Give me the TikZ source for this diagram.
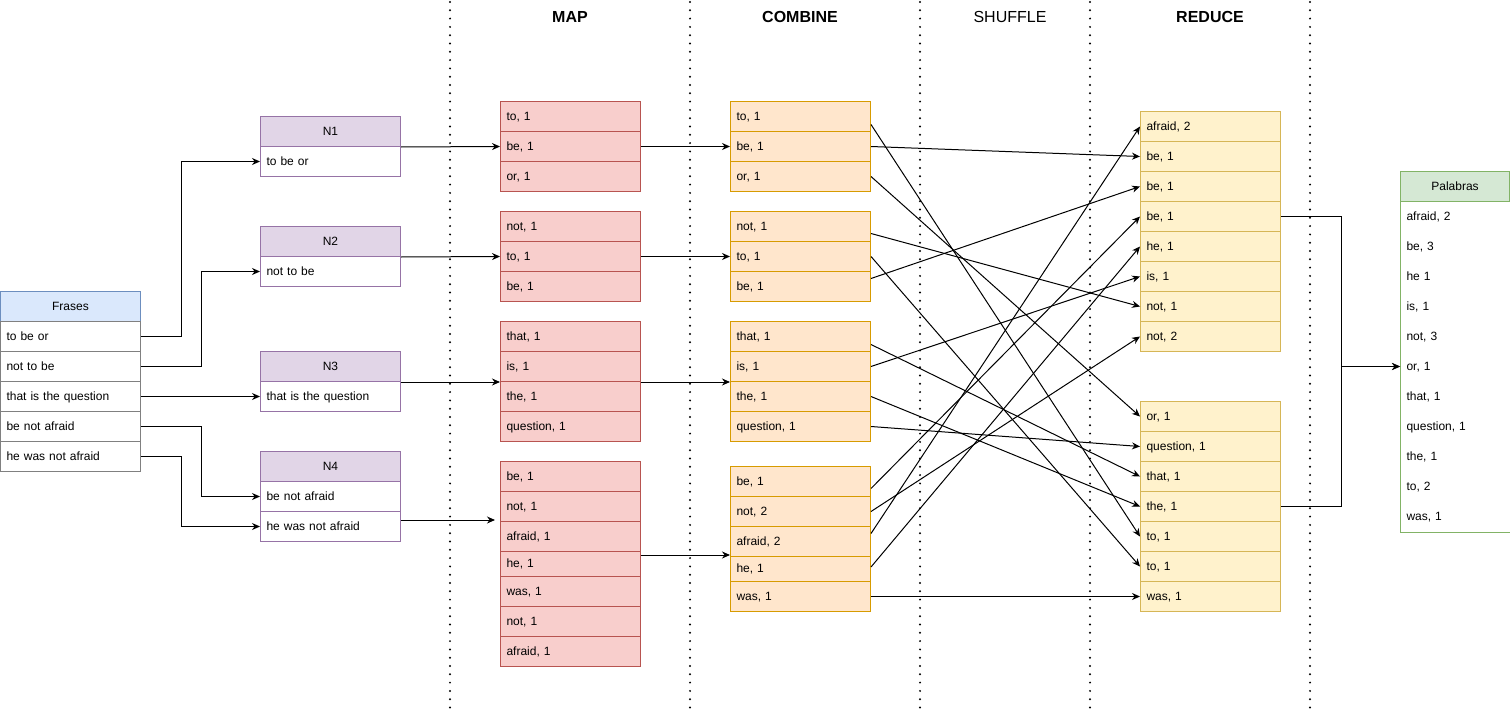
\documentclass[tikz,border=0pt]{standalone}
\usepackage{fontspec}
\setmainfont{Liberation Sans}
\usetikzlibrary{arrows.meta,calc}
\definecolor{frF}{HTML}{DAE8FC}\definecolor{frS}{HTML}{6C8EBF}\definecolor{frG}{HTML}{808080}
\definecolor{nF}{HTML}{E1D5E7}\definecolor{nS}{HTML}{9673A6}
\definecolor{mF}{HTML}{F8CECC}\definecolor{mS}{HTML}{B85450}
\definecolor{cF}{HTML}{FFE6CC}\definecolor{cS}{HTML}{D79B00}
\definecolor{rF}{HTML}{FFF2CC}\definecolor{rS}{HTML}{D6B656}
\definecolor{pF}{HTML}{D5E8D4}\definecolor{pS}{HTML}{82B366}
\newcommand\mkcol[5]{\foreach \t [count=\i] in {#5}{\node[#4] (#1\i) at (#2,{#3+30*(\i-1)}) {\t};}}
\begin{document}
\begin{tikzpicture}[x=1pt,y=-1pt,font=\fontsize{12}{14}\selectfont,
  arr/.style={draw=black,line width=1pt,-{Stealth[length=8pt,width=7pt]}},
  cell/.style={draw,line width=1pt,minimum width=140pt,minimum height=30pt,inner xsep=6pt,inner ysep=0pt,text width=128pt,align=left,anchor=north west,text height=9pt,text depth=1.5pt},
  hdr/.style={cell,align=center},
  frh/.style={hdr,fill=frF,draw=frS},
  frow/.style={cell,fill=white,draw=frG},
  nh/.style={hdr,fill=nF,draw=nS},
  nrow/.style={cell,fill=white,draw=nS},
  mapc/.style={cell,fill=mF,draw=mS},
  comc/.style={cell,fill=cF,draw=cS},
  redc/.style={cell,fill=rF,draw=rS},
  palh/.style={hdr,minimum width=109pt,text width=97pt,fill=pF,draw=pS},
  palrow/.style={cell,draw=none,minimum width=109pt,text width=97pt},
  sep/.style={line width=2.2pt,line cap=round,dash pattern=on 0pt off 8.3pt},
  ttl/.style={font=\fontsize{16}{19}\selectfont\bfseries}]
\useasboundingbox (0,0) rectangle (1510,709);
% separators
\foreach \x in {450,690,920,1090,1310}{\draw[sep] (\x,2) -- (\x,709);}
% titles
\node[ttl] (tmap) at (570,17) {MAP};
\node[ttl] (tcomb) at (800,17) {COMBINE};
\node[font=\fontsize{16}{19}\selectfont] (tshuf) at (1010,17) {SHUFFLE};
\node[ttl] (tred) at (1210,17) {REDUCE};
% Frases
\node[frh] (fh) at (0,291) {Frases};
\mkcol{f}{0}{321}{frow}{{to be or},{not to be},{that is the question},{be not afraid},{he was not afraid}}
% N boxes
\node[nh] (n1h) at (260,116) {N1};
\node[nrow] (n1r1) at (260,146) {to be or};
\node[nh] (n2h) at (260,226) {N2};
\node[nrow] (n2r1) at (260,256) {not to be};
\node[nh] (n3h) at (260,351) {N3};
\node[nrow] (n3r1) at (260,381) {that is the question};
\node[nh] (n4h) at (260,451) {N4};
\node[nrow] (n4r1) at (260,481) {be not afraid};
\node[nrow] (n4r2) at (260,511) {he was not afraid};
% MAP
\mkcol{m1r}{500}{101}{mapc}{{to, 1},{be, 1},{or, 1}}
\mkcol{m2r}{500}{211}{mapc}{{not, 1},{to, 1},{be, 1}}
\mkcol{m3r}{500}{321}{mapc}{{that, 1},{is, 1},{the, 1},{question, 1}}
\node[mapc] (m4r1) at (500,461) {be, 1};
\node[mapc] (m4r2) at (500,491) {not, 1};
\node[mapc] (m4r3) at (500,521) {afraid, 1};
\node[mapc,minimum height=25pt] (m4r4) at (500,551) {he, 1};
\node[mapc] (m4r5) at (500,576) {was, 1};
\node[mapc] (m4r6) at (500,606) {not, 1};
\node[mapc] (m4r7) at (500,636) {afraid, 1};
% COMBINE
\mkcol{c1r}{730}{101}{comc}{{to, 1},{be, 1},{or, 1}}
\mkcol{c2r}{730}{211}{comc}{{not, 1},{to, 1},{be, 1}}
\mkcol{c3r}{730}{321}{comc}{{that, 1},{is, 1},{the, 1},{question, 1}}
\node[comc] (c4r1) at (730,466) {be, 1};
\node[comc] (c4r2) at (730,496) {not, 2};
\node[comc] (c4r3) at (730,526) {afraid, 2};
\node[comc,minimum height=25pt] (c4r4) at (730,556) {he, 1};
\node[comc] (c4r5) at (730,581) {was, 1};
% REDUCE
\mkcol{ra}{1140}{111}{redc}{{afraid, 2},{be, 1},{be, 1},{be, 1},{he, 1},{is, 1},{not, 1},{not, 2}}
\mkcol{rb}{1140}{401}{redc}{{or, 1},{question, 1},{that, 1},{the, 1},{to, 1},{to, 1},{was, 1}}
% Palabras
\node[palh] (ph) at (1400,171) {Palabras};
\mkcol{p}{1400}{201}{palrow}{{afraid, 2},{be, 3},{he 1},{is, 1},{not, 3},{or, 1},{that, 1},{question, 1},{the, 1},{to, 2},{was, 1}}
\draw[pS,line width=1pt] (p1.north west) rectangle (p11.south east);
% Frases -> N
\draw[arr] (f1.east) -- ++(40,0) |- (n1r1.west);
\draw[arr] (f2.east) -- ++(60,0) |- (n2r1.west);
\draw[arr] (f3.east) -- (n3r1.west);
\draw[arr] (f4.east) -- ++(60,0) |- (n4r1.west);
\draw[arr] (f5.east) -- ++(40,0) |- (n4r2.west);
% N -> MAP
\draw[arr] (n1h.south east) -- (m1r2.west);
\draw[arr] (n2h.south east) -- (m2r2.west);
\draw[arr] (n3h.south east) -- (m3r2.south west);
\coordinate (m4in) at (495,520);
\draw[arr] (n4r2.east |- m4in) -- (m4in);
% MAP -> COMBINE
\draw[arr] (m1r2.east) -- (c1r2.west);
\draw[arr] (m2r2.east) -- (c2r2.west);
\draw[arr] (m3r2.south east) -- (c3r2.south west);
\coordinate (m4out) at ([yshift=-4pt]m4r4.north east);
\draw[arr] (m4out) -- (m4out -| c4r3.west);
% SHUFFLE
\draw[arr] ([yshift=-8pt]c1r1.east) -- (rb5.west);
\draw[arr] (c1r2.east) -- (ra2.west);
\draw[arr] (c1r3.east) -- (rb1.west);
\draw[arr] ([yshift=-7pt]c2r1.east) -- (ra7.west);
\draw[arr] (c2r2.east) -- (rb6.west);
\draw[arr] ([yshift=8pt]c2r3.east) -- (ra3.west);
\draw[arr] ([yshift=-8pt]c3r1.east) -- (rb3.west);
\draw[arr] (c3r2.east) -- (ra6.west);
\draw[arr] (c3r3.east) -- (rb4.west);
\draw[arr] (c3r4.east) -- (rb2.west);
\draw[arr] ([yshift=-7pt]c4r1.east) -- (ra4.west);
\draw[arr] (c4r2.east) -- (ra8.west);
\draw[arr] ([yshift=8pt]c4r3.east) -- (ra1.west);
\draw[arr] ([yshift=2pt]c4r4.east) -- (ra5.west);
\draw[arr] (c4r5.east) -- (rb7.west);
% REDUCE -> Palabras
\draw[arr] (ra4.east) -- ++(60,0) |- (p6.west);
\draw[arr] (rb4.east) -- ++(60,0) |- (p6.west);
\end{tikzpicture}
\end{document}
